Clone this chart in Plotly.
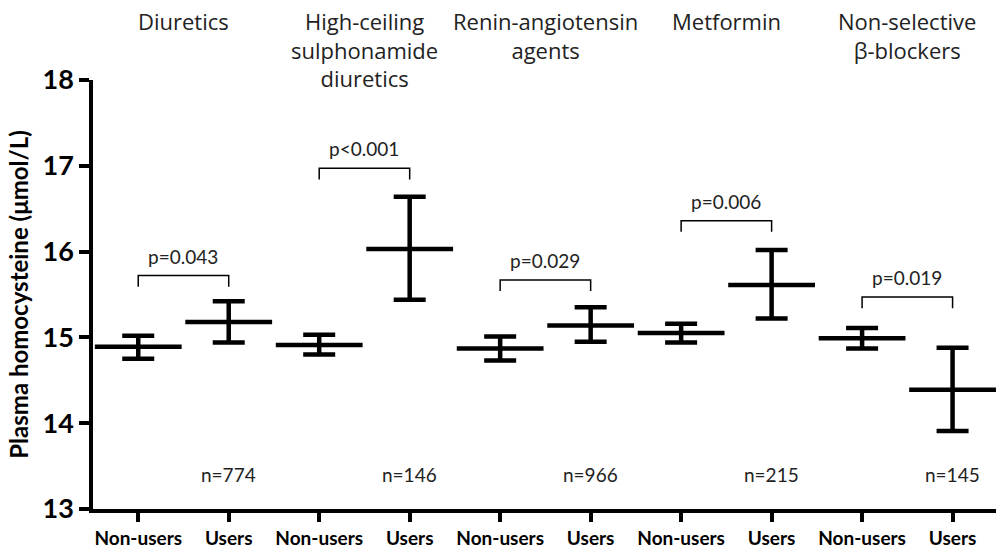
import plotly.graph_objects as go

groups = ["Diuretics", "High-ceiling<br>sulphonamide<br>diuretics", "Renin-angiotensin<br>agents",
          "Metformin", "Non-selective<br>β-blockers"]
tick_labels = ["Non-users", "Users"] * 5

nonuser_mean = [14.89, 14.91, 14.87, 15.05, 14.99]
nonuser_lo = [14.75, 14.80, 14.73, 14.94, 14.87]
nonuser_hi = [15.02, 15.03, 15.01, 15.16, 15.11]
user_mean = [15.18, 16.03, 15.14, 15.61, 14.39]
user_lo = [14.94, 15.44, 14.95, 15.22, 13.91]
user_hi = [15.42, 16.64, 15.35, 16.02, 14.88]
n_users = [774, 146, 966, 215, 145]
p_text = ["p=0.043", "p<0.001", "p=0.029", "p=0.006", "p=0.019"]
bracket_y = [15.72, 16.97, 15.67, 16.36, 15.47]
n_label_y = 13.4

FONT = "Lato"
TFONT = "Open Sans"
fig = go.Figure()

xs, means, plus, minus = [], [], [], []
for i in range(5):
    for m, lo, hi, off in ((nonuser_mean[i], nonuser_lo[i], nonuser_hi[i], 0),
                           (user_mean[i], user_lo[i], user_hi[i], 1)):
        xs.append(2 * i + off)
        means.append(m)
        plus.append(hi - m)
        minus.append(m - lo)

fig.add_trace(go.Scatter(
    x=xs, y=means, mode="markers",
    marker=dict(symbol="line-ew", size=62, line=dict(width=4.5, color="black"), color="black"),
    error_y=dict(type="data", array=plus, arrayminus=minus, symmetric=False,
                 width=16, thickness=4.5, color="black"),
    showlegend=False, hoverinfo="skip"))

drop = 0.13
for i in range(5):
    a, b = 2 * i, 2 * i + 1
    yb = bracket_y[i]
    fig.add_trace(go.Scatter(
        x=[a, a, b, b], y=[yb - drop, yb, yb, yb - drop], mode="lines",
        line=dict(color="black", width=1.5), showlegend=False, hoverinfo="skip"))
    fig.add_annotation(x=i * 2 + 0.5, y=yb, text=p_text[i], showarrow=False,
                       yanchor="bottom", yshift=6, font=dict(family=FONT, size=19, color="#222"))
    fig.add_annotation(x=b, y=n_label_y, text=f"n={n_users[i]}", showarrow=False,
                       font=dict(family=FONT, size=19, color="#222"))
    fig.add_annotation(x=i * 2 + 0.5, y=1.178, yref="paper", text=groups[i], showarrow=False,
                       yanchor="top", font=dict(family=TFONT, size=22, color="#222"))

fig.update_layout(
    width=996, height=548,
    margin=dict(l=93, r=0, t=80, b=39),
    plot_bgcolor="white", paper_bgcolor="white",
    xaxis=dict(range=[-0.5, 9.48], tickvals=list(range(10)), ticktext=tick_labels,
               showgrid=False, zeroline=False, showline=True, linecolor="black", linewidth=3.5,
               ticks="outside", ticklen=9, tickwidth=3.5, tickcolor="black",
               tickfont=dict(family=FONT, size=19, color="black", weight="bold")),
    yaxis=dict(range=[13, 18], tickvals=[13, 14, 15, 16, 17, 18],
               showgrid=False, zeroline=False, showline=True, linecolor="black", linewidth=3.5,
               ticks="outside", ticklen=10, tickwidth=3.5, tickcolor="black",
               tickfont=dict(family=FONT, size=27, color="black", weight="bold"),
               title=dict(text="Plasma homocysteine (μmol/L)", standoff=8,
                          font=dict(family=FONT, size=24, color="black", weight="bold"))),
)

fig.write_html("out.html", config={"displayModeBar": False},
               post_script="document.body.style.margin='0px';")
